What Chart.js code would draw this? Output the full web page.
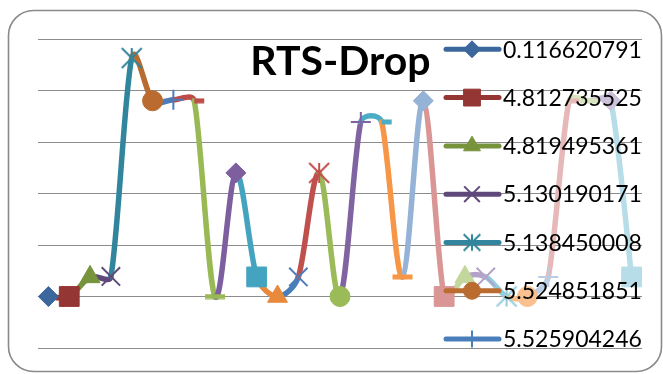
<!DOCTYPE html>
<html>
<head>
<meta charset="utf-8">
<script src="https://cdn.jsdelivr.net/npm/chart.js@4.4.1/dist/chart.umd.min.js"></script>
<style>
  html, body { margin: 0; padding: 0; background: #ffffff; }
  canvas { display: block; }
</style>
</head>
<body>
<canvas id="chart" width="663" height="374"></canvas>
<script>
// Category names shown in the legend (first seven categories)
const legendNames = ['0.116620791', '4.812735525', '4.819495361', '5.130190171', '5.138450008', '5.524851851', '5.525904246'];

// RTS-Drop value for each of the 29 categories
const dropValues = [0, 0, 0.38, 0.39, 4.63, 3.8, 3.82, 3.8, 0, 2.4, 0.38, 0, 0.38, 2.4, 0, 3.39, 3.39, 0.38, 3.8, 0, 0.38, 0.38, 0, 0, 0.38, 3.8, 3.8, 3.8, 0.38];

// Category labels: named ones first, the rest unnamed
const categories = dropValues.map((_, i) => legendNames[i] !== undefined ? legendNames[i] : '');

// Value axis range and gridline step
const yMin = -1, yMax = 5, yStep = 1;

// One colour per point (the series varies its colour point by point)
const pointColors = [
  '#3C679C', '#943634', '#77933C', '#5F497A', '#31859C', '#BA6B2F',
  '#4A7EBB', '#BE4B48', '#98B954', '#7D5FA0', '#44A4BF', '#E8893C',
  '#4A7EBB', '#C0504D', '#9BBB59', '#8064A2', '#4BACC6', '#F79646',
  '#95B3D7', '#D99694', '#C3D69B', '#B3A2C7', '#93CDDD', '#FAC090',
  '#B9CDE5', '#E6B9B8', '#D7E4BD', '#CCC1DA', '#B7DEE8'
];

// Marker shapes cycle through nine kinds
const markerCycle = ['rectRot', 'rect', 'triangle', 'crossRot', 'asterisk', 'circle', 'cross', 'shortDash', 'longDash'];
const markerRadius = { rectRot: 10, rect: 14, triangle: 11.5, crossRot: 13, circle: 10, cross: 10 };
const markerBorder = { crossRot: 2, cross: 2 };

function markerImage(kind, color, scale) {
  const c = document.createElement('canvas');
  const g = c.getContext('2d');
  if (kind === 'asterisk') {
    const s = Math.round(24 * scale);
    c.width = s; c.height = s;
    const a = 2 * scale, b = s - 2 * scale, m = s / 2;
    g.strokeStyle = color; g.lineWidth = 2;
    g.beginPath();
    g.moveTo(m, a); g.lineTo(m, b);
    g.moveTo(a, a); g.lineTo(b, b);
    g.moveTo(b, a); g.lineTo(a, b);
    g.stroke();
  } else {
    c.width = 22; c.height = 6;
    g.fillStyle = color;
    if (kind === 'shortDash') g.fillRect(11, 0.5, 10, 5);
    else g.fillRect(1, 0.5, 20, 5);
  }
  return c;
}

function styleFor(i, scale) {
  const kind = markerCycle[i % markerCycle.length];
  if (kind === 'asterisk' || kind === 'shortDash' || kind === 'longDash') {
    return { pointStyle: markerImage(kind, pointColors[i], scale), radius: 10 * scale, borderWidth: 0 };
  }
  return { pointStyle: kind, radius: markerRadius[kind] * scale, borderWidth: markerBorder[kind] || 1 };
}

const pointStyles = dropValues.map((_, i) => styleFor(i, 1));

// Smoothing: tangent = (next - prev) / 6, shortened so a handle never
// exceeds 40% of the segment it belongs to.
const smoothing = {
  id: 'smoothing',
  beforeDatasetDraw(chart, args) {
    const meta = args.meta;
    const pts = meta.data;
    meta.dataset.updateControlPoints(chart.chartArea, 'x');
    const limit = 0.4;
    for (let i = 0; i < pts.length; i++) {
      const p = pts[i];
      const prev = pts[i - 1] || p;
      const next = pts[i + 1] || p;
      const tx = (next.x - prev.x) / 6;
      const ty = (next.y - prev.y) / 6;
      const len = Math.hypot(tx, ty);
      const dPrev = Math.hypot(p.x - prev.x, p.y - prev.y);
      const dNext = Math.hypot(next.x - p.x, next.y - p.y);
      const sIn = len > 0 ? Math.min(1, limit * dPrev / len) : 0;
      const sOut = len > 0 ? Math.min(1, limit * dNext / len) : 0;
      p.cp1x = p.x - tx * sIn;
      p.cp1y = p.y - ty * sIn;
      p.cp2x = p.x + tx * sOut;
      p.cp2y = p.y + ty * sOut;
    }
  }
};

// Rounded frame around the whole chart
const framePlugin = {
  id: 'frame',
  beforeDraw(chart) {
    const ctx = chart.ctx;
    ctx.save();
    ctx.fillStyle = '#ffffff';
    ctx.fillRect(0, 0, chart.width, chart.height);
    ctx.strokeStyle = '#8a8a8a';
    ctx.lineWidth = 1.6;
    ctx.beginPath();
    ctx.roundRect(8.5, 10.5, 653, 361, 25);
    ctx.stroke();
    ctx.restore();
  }
};

// Title and legend laid over the plot area
const overlayPlugin = {
  id: 'overlay',
  afterDraw(chart) {
    const ctx = chart.ctx;
    ctx.save();
    ctx.fillStyle = '#000000';
    ctx.font = 'bold 41px Lato';
    ctx.textAlign = 'center';
    ctx.textBaseline = 'alphabetic';
    ctx.fillText('RTS-Drop', 340.5, 75);

    ctx.textAlign = 'left';
    ctx.font = '23px Lato';
    legendNames.forEach((name, i) => {
      const y = 49.3 + i * 48.3;
      ctx.strokeStyle = pointColors[i];
      ctx.lineWidth = 5;
      ctx.lineCap = 'round';
      ctx.beginPath();
      ctx.moveTo(446, y);
      ctx.lineTo(499, y);
      ctx.stroke();

      const st = styleFor(i, 0.85);
      ctx.fillStyle = pointColors[i];
      ctx.strokeStyle = pointColors[i];
      ctx.lineWidth = st.borderWidth;
      ctx.lineCap = 'butt';
      Chart.helpers.drawPoint(ctx, { pointStyle: st.pointStyle, radius: st.radius, rotation: 0, borderWidth: st.borderWidth }, 472, y);

      ctx.fillStyle = '#000000';
      ctx.fillText(name, 503, y + 8.2);
    });
    ctx.restore();
  }
};

new Chart(document.getElementById('chart'), {
  type: 'line',
  data: {
    labels: categories,
    datasets: [{
      label: 'RTS-Drop',
      data: dropValues,
      tension: 0.4,
      borderWidth: 5.5,
      borderCapStyle: 'round',
      borderJoinStyle: 'round',
      borderColor: pointColors[0],
      segment: {
        borderColor: ctx => pointColors[ctx.p1DataIndex]
      },
      pointStyle: pointStyles.map(s => s.pointStyle),
      pointRadius: pointStyles.map(s => s.radius),
      pointBorderWidth: pointStyles.map(s => s.borderWidth),
      pointBackgroundColor: pointColors,
      pointBorderColor: pointColors,
      clip: false
    }]
  },
  options: {
    responsive: false,
    animation: false,
    devicePixelRatio: 1,
    layout: { padding: { left: 38, right: 21, top: 39, bottom: 26 } },
    scales: {
      x: {
        type: 'category',
        offset: true,
        grid: { display: false, drawTicks: false },
        border: { display: false },
        ticks: { display: false }
      },
      y: {
        min: yMin,
        max: yMax,
        ticks: { display: false, stepSize: yStep },
        grid: { color: '#8c8c8c', lineWidth: 1, drawTicks: false },
        border: { display: false }
      }
    },
    plugins: {
      legend: { display: false },
      title: { display: false },
      tooltip: { enabled: false }
    }
  },
  plugins: [smoothing, framePlugin, overlayPlugin]
});
</script>
</body>
</html>
